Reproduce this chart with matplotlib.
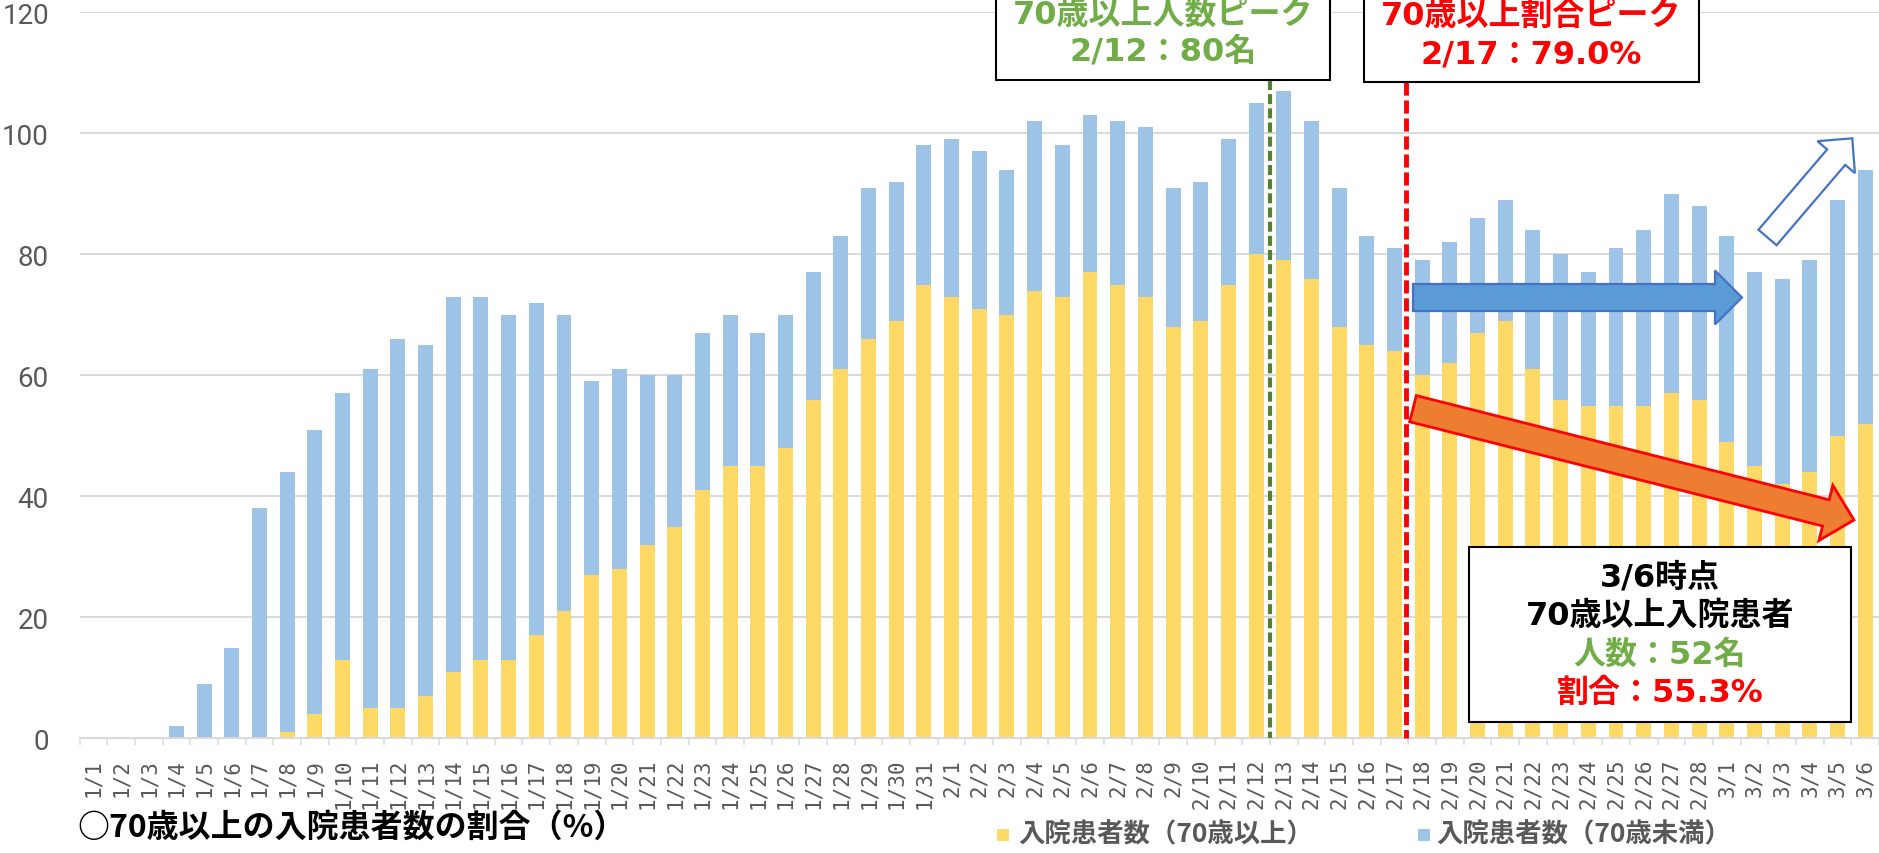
import numpy as np
import pandas as pd
import matplotlib
matplotlib.use('Agg')
import matplotlib.pyplot as plt
from matplotlib.patches import Rectangle, Polygon

plt.rcParams['font.family'] = ['Noto Sans CJK JP', 'DejaVu Sans']

# ---------------- data ----------------
dates = pd.date_range('2021-01-01', '2021-03-06', freq='D')
date_labels = [f"{d.month}/{d.day}" for d in dates]

total = [0, 0, 0, 2, 9, 15, 38, 44, 51, 57,
         61, 66, 65, 73, 73, 70, 72, 70, 59, 61,
         60, 60, 67, 70, 67, 70, 77, 83, 91, 92,
         98,
         99, 97, 94, 102, 98, 103, 102, 101, 91, 92,
         99, 105, 107, 102, 91, 83, 81, 79, 82, 86,
         89, 84, 80, 77, 81, 84, 90, 88,
         83, 77, 76, 79, 89, 94]
over70 = [0, 0, 0, 0, 0, 0, 0, 1, 4, 13,
          5, 5, 7, 11, 13, 13, 17, 21, 27, 28,
          32, 35, 41, 45, 45, 48, 56, 61, 66, 69,
          75,
          73, 71, 70, 74, 73, 77, 75, 73, 68, 69,
          75, 80, 79, 76, 68, 65, 64, 60, 62, 67,
          69, 61, 56, 55, 55, 55, 57, 56,
          49, 45, 42, 44, 50, 52]
series_names = ['入院患者数（70歳以上）', '入院患者数（70歳未満）']
y_ticks = [0, 20, 40, 60, 80, 100, 120]

title_text = '○70歳以上の入院患者数の割合（%）'
peak_count = ['70歳以上人数ピーク', '2/12：80名']
peak_ratio = ['70歳以上割合ピーク', '2/17：79.0%']
now_box = ['3/6時点', '70歳以上入院患者', '人数：52名', '割合：55.3%']

# ---------------- figure ----------------
W, H = 1879, 854
fig = plt.figure(figsize=(W / 100, H / 100), dpi=100)

ax_left_px, y0_px, ytop_px = 79.5, 739.3, 13.3
ax = fig.add_axes([ax_left_px / W, 1 - y0_px / H, (W - ax_left_px) / W, (y0_px - ytop_px) / H])

YEL = '#FFD966'
BLU = '#9DC3E6'
GRID = '#D9D9D9'
TXT = '#595959'

x = np.arange(len(date_labels))
over = np.array(over70)
under = np.array(total) - over
ax.bar(x, over, width=0.54, color=YEL, zorder=2, label=series_names[0])
ax.bar(x, under, bottom=over, width=0.54, color=BLU, zorder=2, label=series_names[1])

cat_px = 27.8
ax.set_xlim(-0.5, -0.5 + (W - ax_left_px) / cat_px)
ax.set_ylim(0, 120)
ax.set_yticks(y_ticks)
ax.yaxis.grid(True, color=GRID, lw=1.4, zorder=0)
ax.set_axisbelow(True)
for s in ['left', 'top', 'right']:
    ax.spines[s].set_visible(False)
ax.spines['bottom'].set_color(GRID)
ax.spines['bottom'].set_linewidth(1.5)
ax.spines['bottom'].set_zorder(3)

ax.tick_params(axis='y', length=0, pad=22, labelsize=20, labelcolor=TXT)
for lbl in ax.get_yticklabels():
    lbl.set_fontfamily('Roboto')

ax.set_xticks(x)
ax.set_xticklabels(date_labels, rotation=90, fontsize=15, color=TXT, family='DejaVu Sans Mono')
ax.tick_params(axis='x', which='major', length=0, pad=14)
ax.set_xticks(np.arange(-0.5, len(x), 1), minor=True)
ax.tick_params(axis='x', which='minor', length=5, width=1.1, color=GRID)

# ---------------- overlay (pixel coordinates) ----------------
ov = fig.add_axes([0, 0, 1, 1], zorder=10)
ov.set_xlim(0, W)
ov.set_ylim(H, 0)
ov.axis('off')
ov.patch.set_alpha(0)


def arrow_poly(tail, tip, shaft_hw, head_hw, head_len):
    t = np.array(tail, float)
    p = np.array(tip, float)
    d = p - t
    u = d / np.hypot(*d)
    n = np.array([-u[1], u[0]])
    b = p - u * head_len
    return np.array([t + n * shaft_hw, b + n * shaft_hw, b + n * head_hw, p,
                     b - n * head_hw, b - n * shaft_hw, t - n * shaft_hw])


# dashed peak lines
ov.plot([1270, 1270], [81, y0_px], color='#548235', lw=3, dashes=(2.4, 1.0), zorder=3)
ov.plot([1406.5, 1406.5], [83, y0_px], color='#FF0000', lw=3.5, dashes=(2.7, 1.0), zorder=3)

# arrows
ov.add_patch(Polygon(arrow_poly((1413, 298.5), (1742, 298.5), 13.5, 27, 27),
                     closed=True, facecolor='#5B9BD5', edgecolor='#4472C4', lw=1.6, zorder=4))
ov.add_patch(Polygon(arrow_poly((1413, 409.7), (1854, 521), 13.5, 28.5, 29),
                     closed=True, facecolor='#ED7D31', edgecolor='#FF0000', lw=2.0, zorder=4))
ov.add_patch(Polygon(arrow_poly((1767.5, 238.5), (1852.3, 139.3), 11.9, 24.6, 24.8),
                     closed=True, facecolor='white', edgecolor='#4472C4', lw=1.6, zorder=4))

GREEN = '#70AD47'
RED = '#FF0000'
FS = 23
BOXFONT = ['DejaVu Sans', 'Noto Sans CJK JP']

# green peak box
ov.add_patch(Rectangle((995.7, -20), 1330.3 - 995.7, 81 + 20, facecolor='white',
                       edgecolor='black', lw=1.5, zorder=5))
ov.text(1163, 15, peak_count[0], ha='center', va='center', fontsize=FS, weight='bold',
        color=GREEN, zorder=6, family=BOXFONT)
ov.text(1163, 52.5, peak_count[1], ha='center', va='center', fontsize=FS, weight='bold',
        color=GREEN, zorder=6, family=BOXFONT)

# red peak box
ov.add_patch(Rectangle((1364.3, -20), 1699 - 1364.3, 83 + 20, facecolor='white',
                       edgecolor='black', lw=1.5, zorder=5))
ov.text(1531.5, 16, peak_ratio[0], ha='center', va='center', fontsize=FS, weight='bold',
        color=RED, zorder=6, family=BOXFONT)
ov.text(1531.5, 55, peak_ratio[1], ha='center', va='center', fontsize=FS, weight='bold',
        color=RED, zorder=6, family=BOXFONT)

# 3/6 box
ov.add_patch(Rectangle((1469, 548), 1851.5 - 1469, 723 - 548, facecolor='white',
                       edgecolor='black', lw=1.5, zorder=5))
for txt, yy, col in zip(now_box, [578, 616.7, 655, 693], ['black', 'black', GREEN, RED]):
    ov.text(1660, yy, txt, ha='center', va='center', fontsize=FS, weight='bold', color=col,
            zorder=6, family=BOXFONT)

# title at bottom left
ov.text(77, 828, title_text, ha='left', va='center', fontsize=23, weight='bold', color='black')

# legend
ov.add_patch(Rectangle((997, 830), 12, 12, facecolor=YEL, edgecolor='none'))
ov.text(1018, 835, series_names[0], ha='left', va='center', fontsize=19, weight='bold', color=TXT)
ov.add_patch(Rectangle((1418, 830), 12, 12, facecolor=BLU, edgecolor='none'))
ov.text(1436, 835, series_names[1], ha='left', va='center', fontsize=19, weight='bold', color=TXT)

fig.savefig('out.png', dpi=100)
